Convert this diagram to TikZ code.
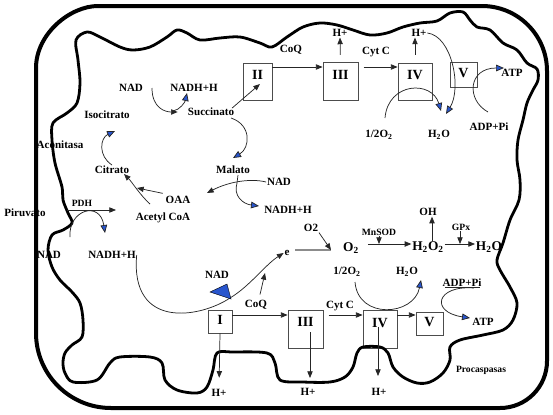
\documentclass[tikz,border=0pt]{standalone}
\usepackage{fontspec}
\setmainfont{Liberation Serif}
\usetikzlibrary{arrows.meta,calc}
\definecolor{myblue}{RGB}{40,85,205}
\begin{document}
\begin{tikzpicture}[x=0.75pt,y=-0.75pt,
  lbl/.style={font=\fontsize{8.3}{9}\selectfont\bfseries, inner sep=0.5pt},
  sml/.style={font=\fontsize{7.2}{8}\selectfont\bfseries, inner sep=0.5pt},
  big/.style={font=\fontsize{10}{11}\selectfont\bfseries, inner sep=0.5pt},
  num/.style={font=\fontsize{10.5}{11}\selectfont\bfseries, inner sep=0pt},
  cbox/.style={draw=black!70, line width=0.6pt, fill=white, inner sep=0pt},
  ln/.style={line width=0.55pt, draw=black!85},
  arr/.style={ln, -{Triangle[length=5pt,width=4pt]}},
  barr/.style={ln, -{Triangle[length=6pt,width=5pt,fill=myblue]}},
  frame/.style={line width=3pt},
  membrane/.style={line width=2.1pt, line join=round}]
\useasboundingbox (0,0) rectangle (553,414);

% outer frame
\draw[frame] (36,68) .. controls (36,33.8) and (70.2,6) .. (98,6)
  -- (482,6) .. controls (517.9,6) and (547,35.1) .. (547,71)
  -- (547,361) .. controls (547,387) and (526,408) .. (500,408)
  -- (111,408) .. controls (69.6,408) and (36,374.4) .. (36,333) -- cycle;

% boxes top chain
\node[cbox, minimum width=21.75pt, minimum height=27.75pt] (boxII) at (257.5,81.5) {};
\node[cbox, minimum width=26.25pt, minimum height=28.5pt] (boxIIIt) at (340.5,81) {};
\node[cbox, minimum width=25.5pt, minimum height=27.75pt] (boxIVt) at (415,81.5) {};
\node[cbox, minimum width=20.25pt, minimum height=18.75pt] (boxVt) at (463.5,74.5) {};
% boxes bottom chain
\node[cbox, minimum width=18pt, minimum height=17.25pt] (boxI) at (220,321.5) {};
\node[cbox, minimum width=26.25pt, minimum height=28.5pt] (boxIIIb) at (305.5,329) {};
\node[cbox, minimum width=25.5pt, minimum height=28.5pt] (boxIVb) at (380,329) {};
\node[cbox, minimum width=20.25pt, minimum height=17.25pt] (boxVb) at (429.5,323.5) {};

% inner membrane
\draw[membrane] plot[smooth cycle, tension=0.55] coordinates {
(87,32) (100,37) (120,47) (133,50) (150,47) (167,37) (177,30) (187,33) (200,40)
(220,38) (240,37) (260,43) (272,47) (287,37) (303,27) (320,23) (337,25) (353,30)
(370,35) (387,33) (403,27) (420,23) (437,21) (450,13) (463,12) (470,20) (477,27)
(490,30) (503,43) (517,50) (527,63) (537,69) (538,80) (533,90) (527,103) (523,120)
(518,140) (517,160) (520,180) (519,200) (510,220) (503,243) (497,260) (500,270)
(510,287) (517,303) (513,320) (503,330) (483,335) (460,340) (450,347) (450,360)
(443,373) (430,382) (417,383) (403,377) (393,367) (388,353) (380,347) (363,347)
(357,353) (353,367) (345,377) (330,382) (303,382) (280,380) (275,363) (267,353)
(233,352) (217,353) (213,370) (207,387) (197,393) (177,390) (165,380) (162,363)
(150,357) (120,357) (110,363) (97,380) (73,382) (65,373) (63,363) (65,353) (72,345)
(82,337) (83,320) (80,303) (72,292) (60,280) (52,267) (48,250) (52,235) (63,230)
(72,223) (68,213) (63,200) (62,187) (55,163) (52,140) (53,123) (67,113) (77,103)
(80,83) (78,60) (76,40)};

% box numerals
\node[num] (tII) at (257.5,75) {II};
\node[num] (tIIIt) at (340.5,75) {III};
\node[num] (tIVt) at (415,75) {IV};
\node[num] (tVt) at (463.5,73) {V};
\node[num] (tI) at (220,320) {I};
\node[num] (tIIIb) at (305.5,322) {III};
\node[num] (tIVb) at (380,323) {IV};
\node[num] (tVb) at (429.5,322) {V};

% labels top
\node[lbl] (coqT) at (291,50) {CoQ};
\node[lbl] (cytT) at (376,52) {Cyt C};
\node[lbl] (hpT3) at (340,33) {H+};
\node[lbl] (hpT4) at (419,33) {H+};
\node[lbl] (atpT) at (512,73) {ATP};
\node[lbl] (adpT) at (489,127) {ADP+Pi};
\node[lbl] (halfT) at (379,135) {1/2O\textsubscript{2}};
\node[lbl] (h2oT) at (439,135) {H\textsubscript{2}O};

% labels Krebs
\node[lbl] (nadA) at (131,88) {NAD};
\node[lbl] (nadhA) at (194,88) {NADH+H};
\node[lbl] (succ) at (211,112) {Succinato};
\node[lbl] (iso) at (107,115) {Isocitrato};
\node[lbl] (acon) at (60,145) {Aconitasa};
\node[lbl] (cit) at (112,170) {Citrato};
\node[lbl] (mal) at (233,170) {Malato};
\node[lbl] (nadB) at (279,182) {NAD};
\node[lbl] (nadhB) at (288,210) {NADH+H};
\node[lbl] (oaa) at (178,200) {OAA};
\node[lbl] (acoa) at (163,218) {Acetyl CoA};
\node[sml] (pdh) at (82,203) {PDH};
\node[lbl] (piru) at (25,213) {Piruvato};
\node[lbl] (nadC) at (49,255) {NAD};
\node[lbl] (nadhC) at (112,255) {NADH+H};
\node[lbl] (nadD) at (217,275) {NAD};
\node[lbl] (e) at (287,253) {e};
\node[lbl] (coqB) at (256,305) {CoQ};

% ROS row
\node[lbl] (o2s) at (311,228) {O2};
\node[big] (o2) at (351,248) {O\textsubscript{2}};
\node[sml] (mnsod) at (379,232) {MnSOD};
\node[big] (h2o2) at (428,247) {H\textsubscript{2}O\textsubscript{2}};
\node[lbl] (oh) at (428,212) {OH};
\node[sml] (gpx) at (461,227) {GPx};
\node[big] (h2oR) at (489,247) {H\textsubscript{2}O};

% labels bottom
\node[lbl] (cytB) at (340,306) {Cyt C};
\node[lbl] (halfB) at (347,272) {1/2O\textsubscript{2}};
\node[lbl] (h2oB) at (407,272) {H\textsubscript{2}O};
\node[lbl] (adpB) at (462,283) {ADP+Pi};
\node[lbl] (atpB) at (483,322) {ATP};
\node[lbl] (hpI) at (219,393) {H+};
\node[lbl] (hpIII) at (308,392) {H+};
\node[lbl] (hpIV) at (379,392) {H+};
\node[sml] (proc) at (481,370) {Procaspasas};

% ---- connectors top chain
\coordinate (yt) at (0,67);
\coordinate (iiin) at (260,84);
\draw[arr] ($(succ.north east)+(-3,1)$) -- (iiin);
\draw[arr] (boxII.east |- yt) -- (boxIIIt.west |- yt);
\draw[arr, shorten <=4pt] (boxIIIt.east |- yt) -- (boxIVt.west |- yt);
\draw[arr, shorten <=5pt] (boxIIIt.north) -- (hpT3.south);
\draw[arr, shorten <=6pt] (boxIVt.north) -- (boxIVt.north |- hpT4.south);
\coordinate (halfTs) at (385,118);
\coordinate (h2oTa) at (441,111);
\coordinate (h2oTb) at (446,114);
\draw[barr] (halfTs) .. controls (388,82) and (432,80) .. (h2oTa);
\draw[barr] (hpT4.east) .. controls (452,36) and (462,88) .. (h2oTb);
\coordinate (adpTs) at (488,112);
\coordinate (atpTa) at (504,68);
\draw[barr] (adpTs) .. controls (466,100) and (468,68) .. (atpTa);

% ---- Krebs cycle
\coordinate (nadAs) at (152,88);
\coordinate (nadAj) at (173,111);
\coordinate (nadhAa) at (187,93);
\draw[arr, shorten >=7pt] (nadAs) .. controls (152,108) and (165,112) .. (succ.west);
\draw[barr] (nadAj) .. controls (180,110) and (185,102) .. (nadhAa);
\coordinate (succs) at (231,118);
\coordinate (mala) at (233,158);
\draw[barr] (succs) .. controls (252,125) and (250,148) .. (mala);
\coordinate (cits) at (112,165);
\coordinate (isoa) at (115,131);
\draw[barr] (cits) .. controls (98,156) and (100,138) .. (isoa);
\coordinate (acoas) at (150,204);
\coordinate (cita) at (124,174);
\draw[arr] (acoas) .. controls (140,195) and (132,182) .. (cita);
\coordinate (oaaj) at (137,188);
\draw[arr] ($(oaa.north west)+(-2,-2)$) -- (oaaj);
\coordinate (malj) at (237,183);
\coordinate (oaaa) at (207,193);
\draw[arr] (nadB.west) .. controls (250,178) and (228,182) .. (oaaa);
\draw[ln] (238,175) -- (malj);
\coordinate (nadhBa) at (259,206);
\draw[barr] (malj) .. controls (233,196) and (243,204) .. (nadhBa);

% ---- PDH
\coordinate (pdhs) at (67,210);
\coordinate (pdha) at (116,210);
\draw[arr] (pdhs) -- (pdha);
\coordinate (nadCs) at (70,237);
\coordinate (nadhCa) at (105,233);
\draw[barr] (nadCs) .. controls (68,210) and (100,200) .. (nadhCa);

% ---- NADH -> e
\coordinate (bigj) at (230,298);
\draw[ln] (nadhC.east) .. controls (130,330) and (200,318) .. (bigj);
\draw[arr] (bigj) .. controls (250,286) and (265,265) .. (e.west);
\filldraw[fill=myblue, draw=black, line width=0.3pt] (210,292) -- (227,284) -- (231,299) -- cycle;
\coordinate (coqBa) at (265,273);
\draw[arr] ($(coqB.north)+(4,-5)$) -- (coqBa);

% ---- ROS
\coordinate (ym) at (0,244);
\coordinate (o2a) at (331,250);
\draw[ln, draw=black!45, line width=0.8pt] (295,250) -- (o2a);
\draw[arr] (o2s.south east) -- (o2a);
\draw[arr] (o2.east |- ym) ++(8,0) -- (h2o2.west |- ym);
\draw[arr] (mnsod.south) -- (mnsod.south |- ym);
\draw[arr] ($(h2o2.north)+(4,0)$) -- ($(oh.south)+(4,0)$);
\draw[arr] (h2o2.east |- ym) -- (h2oR.west |- ym);
\draw[arr] ($(gpx.south)+(-1,0)$) -- ($(gpx.south |- ym)+(-1,0)$);

% ---- bottom chain
\coordinate (yb) at (0,315);
\draw[arr] (boxI.east |- yb) -- (boxIIIb.west |- yb);
\draw[arr, shorten <=4pt] (boxIIIb.east |- yb) -- (boxIVb.west |- yb);
\draw[arr] (boxIVb.east |- yb) -- (boxVb.west |- yb);
\draw[arr, shorten >=8pt] (boxI.south) -- (hpI.north);
\coordinate (d3s) at (310,332);
\coordinate (d3a) at (310,378);
\draw[arr] (d3s) -- (d3a);
\coordinate (d4s) at (378,327);
\coordinate (d4a) at (378,376);
\draw[arr] (d4s) -- (d4a);
\coordinate (halfBs) at (355,282);
\coordinate (h2oBa) at (421,280);
\draw[barr] (halfBs) .. controls (358,320) and (414,316) .. (h2oBa);
\coordinate (adpBs) at (474,288);
\coordinate (atpBa) at (470,318);
\draw[ln] (445,287) -- (480,287);
\draw[barr] (adpBs) .. controls (436,285) and (430,312) .. (atpBa);
\end{tikzpicture}
\end{document}
